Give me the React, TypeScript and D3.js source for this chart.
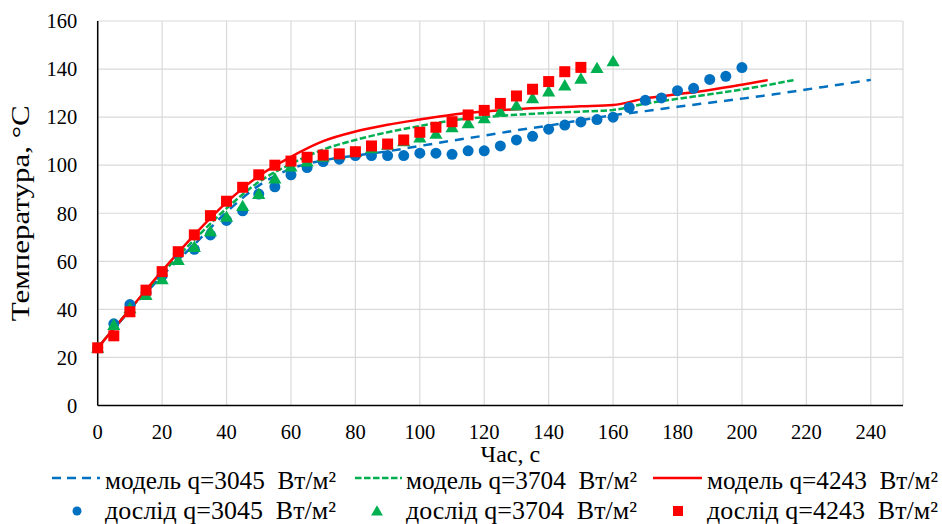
import { useEffect, useRef } from 'react';
import * as d3 from 'd3';

// experiment time points, s
const expTime3045 = [0, 5, 10, 15, 20, 25, 30, 35, 40, 45, 50, 55, 60, 65, 70, 75, 80, 85, 90, 95, 100, 105, 110, 115, 120, 125, 130, 135, 140, 145, 150, 155, 160, 165, 170, 175, 180, 185, 190, 195, 200];
const expTemp3045 = [24, 34, 42, 47, 54, 63, 65, 71, 77, 81, 88, 91, 96, 99, 101.5, 102.5, 104, 104, 104, 104, 105, 105, 104.5, 106, 106, 108, 110.5, 112, 115, 116.7, 118, 119, 120, 124, 127, 128, 131, 132, 135.7, 137, 140.6];

const expTime3704 = [0, 5, 10, 15, 20, 25, 30, 35, 40, 45, 50, 55, 60, 65, 70, 75, 80, 85, 90, 95, 100, 105, 110, 115, 120, 125, 130, 135, 140, 145, 150, 155, 160];
const expTemp3704 = [23.5, 33, 40, 45.5, 52, 60, 65.5, 72, 78, 82.5, 87.5, 94, 99, 101, 103, 104, 105, 106.5, 108, 109.5, 111, 112.6, 115.3, 117, 119, 121.7, 124.3, 127.4, 130.2, 132.7, 135.5, 139.9, 142.7];

const expTime4243 = [0, 5, 10, 15, 20, 25, 30, 35, 40, 45, 50, 55, 60, 65, 70, 75, 80, 85, 90, 95, 100, 105, 110, 115, 120, 125, 130, 135, 140, 145, 150];
const expTemp4243 = [24, 29, 39, 48, 55.7, 64, 71, 79, 85, 90.8, 96, 100, 101.7, 103.3, 104.2, 104.7, 105.6, 108, 108.8, 110.5, 113.7, 115.8, 118.1, 120.9, 122.8, 125.7, 128.8, 131.6, 134.8, 138.9, 140.7];

// model curves
const modelTime3045 = [0, 10, 20, 30, 40, 50, 60, 70, 80, 90, 100, 110, 120, 130, 140, 150, 160, 170, 180, 190, 200, 210, 220, 230, 240];
const modelTemp3045 = [24, 39.5, 54, 67, 80.5, 91.5, 98.5, 102, 104, 105.8, 108, 110.2, 112.3, 114.5, 116.5, 118.7, 120.8, 122.5, 124.3, 126, 127.7, 129.5, 131.5, 133.5, 135.5];

const modelTime3704 = [0, 10, 20, 30, 40, 50, 60, 70, 80, 90, 100, 110, 120, 130, 140, 150, 160, 170, 180, 190, 200, 216];
const modelTemp3704 = [24, 40, 55, 69, 82, 93, 100.5, 106.5, 110.5, 113.7, 116.3, 118.6, 120, 121, 121.7, 122.3, 123, 125.6, 127.6, 129.5, 131.5, 135.4];

const modelTime4243 = [0, 10, 20, 30, 40, 50, 60, 70, 80, 90, 100, 110, 120, 130, 140, 150, 160, 170, 180, 190, 200, 208];
const modelTemp4243 = [24, 40, 56, 71, 84.5, 95.5, 103.5, 110, 114, 116.8, 119, 121, 122.3, 123.3, 124, 124.5, 125, 127.8, 129.5, 131.3, 133.5, 135.4];

const xTicks = [0, 20, 40, 60, 80, 100, 120, 140, 160, 180, 200, 220, 240];
const yTicks = [0, 20, 40, 60, 80, 100, 120, 140, 160];

const BLUE = '#0070C0';
const GREEN = '#00B050';
const RED = '#FF0000';
const FONT = 'Liberation Serif';

const zip = (t: number[], v: number[]) => t.map((d, i) => [d, v[i]] as [number, number]);

const App = () => {
  const svgRef = useRef<SVGSVGElement>(null);

  useEffect(() => {
    const W = 942, H = 524;
    const margin = { top: 21, right: 39, bottom: 118.5, left: 97.7 };
    const svg = d3.select(svgRef.current);
    svg.selectAll('*').remove();
    svg.attr('width', W).attr('height', H).attr('viewBox', `0 0 ${W} ${H}`);

    const x = d3.scaleLinear().domain([0, 250]).range([margin.left, W - margin.right]);
    const y = d3.scaleLinear().domain([0, 160]).range([H - margin.bottom, margin.top]);

    const grid = svg.append('g');
    grid.selectAll('line.v')
      .data([...xTicks, 250])
      .enter().append('line')
      .attr('x1', (d) => x(d)).attr('x2', (d) => x(d))
      .attr('y1', y(0)).attr('y2', y(160))
      .attr('stroke', '#d9d9d9').attr('stroke-width', 1.2);
    grid.selectAll('line.h')
      .data(yTicks)
      .enter().append('line')
      .attr('x1', x(0)).attr('x2', x(250))
      .attr('y1', (d) => y(d)).attr('y2', (d) => y(d))
      .attr('stroke', '#d9d9d9').attr('stroke-width', 1.2);

    // axes lines
    svg.append('line').attr('x1', x(0)).attr('x2', x(0)).attr('y1', y(0)).attr('y2', y(160))
      .attr('stroke', '#000').attr('stroke-width', 1.5);
    svg.append('line').attr('x1', x(0)).attr('x2', x(250)).attr('y1', y(0)).attr('y2', y(0))
      .attr('stroke', '#000').attr('stroke-width', 1.5);

    svg.append('g').selectAll('text')
      .data(xTicks).enter().append('text')
      .attr('x', (d) => x(d)).attr('y', y(0) + 33.5)
      .attr('text-anchor', 'middle')
      .attr('font-family', FONT)
      .attr('font-size', 20.5)
      .text((d) => d);

    svg.append('g').selectAll('text')
      .data(yTicks).enter().append('text')
      .attr('x', x(0) - 20.5).attr('y', (d) => y(d) + 7.3)
      .attr('text-anchor', 'end')
      .attr('font-family', FONT)
      .attr('font-size', 20.5)
      .text((d) => d);

    svg.append('text')
      .attr('x', (x(0) + x(250)) / 2 + 10).attr('y', 461.5)
      .attr('text-anchor', 'middle')
      .attr('font-family', FONT)
      .attr('font-size', 24)
      .text('Час, с');

    svg.append('text')
      .attr('transform', `translate(29, ${(y(0) + y(160)) / 2}) rotate(-90)`)
      .attr('text-anchor', 'middle')
      .attr('font-family', FONT)
      .attr('font-size', 26)
      .attr('textLength', 216)
      .attr('lengthAdjust', 'spacingAndGlyphs')
      .text('Температура, °С');

    const line = d3.line<[number, number]>()
      .x((d) => x(d[0])).y((d) => y(d[1]))
      .curve(d3.curveMonotoneX);

    const models = [
      { pts: zip(modelTime3045, modelTemp3045), color: BLUE, dash: '9,7' },
      { pts: zip(modelTime3704, modelTemp3704), color: GREEN, dash: '6.5,2.5' },
      { pts: zip(modelTime4243, modelTemp4243), color: RED, dash: null },
    ];
    models.forEach((m) => {
      svg.append('path')
        .attr('d', line(m.pts))
        .attr('fill', 'none')
        .attr('stroke', m.color)
        .attr('stroke-width', 2.5)
        .attr('stroke-dasharray', m.dash);
    });

    svg.append('g').selectAll('circle')
      .data(zip(expTime3045, expTemp3045)).enter().append('circle')
      .attr('cx', (d) => x(d[0])).attr('cy', (d) => y(d[1]))
      .attr('r', 5.5).attr('fill', BLUE);

    const tri = d3.symbol().type(d3.symbolTriangle).size(75);
    svg.append('g').selectAll('path')
      .data(zip(expTime3704, expTemp3704)).enter().append('path')
      .attr('d', tri)
      .attr('transform', (d) => `translate(${x(d[0])}, ${y(d[1])})`)
      .attr('fill', GREEN);

    svg.append('g').selectAll('rect')
      .data(zip(expTime4243, expTemp4243)).enter().append('rect')
      .attr('x', (d) => x(d[0]) - 5.5).attr('y', (d) => y(d[1]) - 5.5)
      .attr('width', 11).attr('height', 11)
      .attr('fill', RED);

    // legend
    const lg = svg.append('g');
    const row1 = 478, row2 = 511;
    const lineItems = [
      { x1: 52, x2: 100, tx: 105, color: BLUE, dash: '9,6', label: 'модель q=3045  Вт/м²' },
      { x1: 355, x2: 402, tx: 406, color: GREEN, dash: '6.5,2.5', label: 'модель q=3704  Вт/м²' },
      { x1: 653, x2: 702, tx: 707, color: RED, dash: null, label: 'модель q=4243  Вт/м²' },
    ];
    lineItems.forEach((it) => {
      lg.append('line').attr('x1', it.x1).attr('x2', it.x2).attr('y1', row1).attr('y2', row1)
        .attr('stroke', it.color).attr('stroke-width', 2.5).attr('stroke-dasharray', it.dash);
      lg.append('text').attr('x', it.tx).attr('y', 488.5)
        .attr('font-family', FONT).attr('font-size', 25)
        .attr('textLength', 231).attr('lengthAdjust', 'spacingAndGlyphs')
        .style('white-space', 'pre').text(it.label);
    });
    lg.append('circle').attr('cx', 77).attr('cy', row2).attr('r', 4.5).attr('fill', BLUE);
    lg.append('path').attr('d', d3.symbol().type(d3.symbolTriangle).size(60)())
      .attr('transform', `translate(377, ${row2 + 1})`).attr('fill', GREEN);
    lg.append('rect').attr('x', 673).attr('y', row2 - 5).attr('width', 10).attr('height', 10).attr('fill', RED);
    [
      { tx: 105, label: 'дослід q=3045  Вт/м²' },
      { tx: 406, label: 'дослід q=3704  Вт/м²' },
      { tx: 707, label: 'дослід q=4243  Вт/м²' },
    ].forEach((it) => {
      lg.append('text').attr('x', it.tx).attr('y', 518.5)
        .attr('font-family', FONT).attr('font-size', 25)
        .attr('textLength', 231).attr('lengthAdjust', 'spacingAndGlyphs')
        .style('white-space', 'pre').text(it.label);
    });
  }, []);

  return (
    <div style={{ position: 'absolute', left: 0, top: 0, width: 942, height: 524, background: '#fff' }}>
      <svg ref={svgRef}></svg>
    </div>
  );
};

export default App;
